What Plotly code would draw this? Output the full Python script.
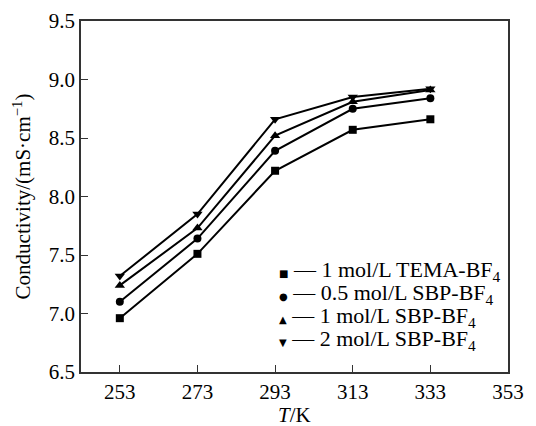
import plotly.graph_objects as go

temps = [253, 273, 293, 313, 333]
tema_1 = [6.96, 7.51, 8.22, 8.57, 8.66]
sbp_05 = [7.10, 7.64, 8.39, 8.75, 8.84]
sbp_1 = [7.24, 7.73, 8.52, 8.81, 8.91]
sbp_2 = [7.32, 7.85, 8.66, 8.85, 8.92]

labels = ["1 mol/L TEMA-BF<sub>4</sub>", "0.5 mol/L SBP-BF<sub>4</sub>",
          "1 mol/L SBP-BF<sub>4</sub>", "2 mol/L SBP-BF<sub>4</sub>"]
glyphs = ["■", "●", "▲", "▼"]
series = [tema_1, sbp_05, sbp_1, sbp_2]
symbols = ["square", "circle", "triangle-up", "triangle-down"]
sizes = [8, 8, 9, 9]

font = "Liberation Serif, Times New Roman, serif"

fig = go.Figure()
for s, sym, sz, lab in zip(series, symbols, sizes, labels):
    fig.add_trace(go.Scatter(x=temps, y=s, mode="lines+markers", name=lab,
                             line=dict(color="black", width=2),
                             marker=dict(symbol=sym, size=sz, color="black"),
                             showlegend=False))

# legend drawn as text rows
y0, dy = 0.289, 0.066
for i, (g, lab) in enumerate(zip(glyphs, labels)):
    fig.add_annotation(xref="paper", yref="paper", x=0.458, y=y0 - i * dy,
                       xanchor="left", yanchor="middle", showarrow=False,
                       text=f"<span style='font-family:DejaVu Sans;font-size:10px'>{g}</span>"
                            f"<span style='font-size:22px'> — {lab}</span>",
                       font=dict(family=font, size=22, color="black"))

# x-axis title
fig.add_annotation(xref="paper", yref="paper", x=0.5, y=-0.1225,
                   xanchor="center", yanchor="middle", showarrow=False,
                   text="<i>T</i>/K", font=dict(family=font, size=21, color="black"))

fig.update_layout(
    width=536, height=426,
    margin=dict(l=81, r=28, t=21, b=54),
    paper_bgcolor="white", plot_bgcolor="white",
    font=dict(family=font, size=21, color="black"),
    showlegend=False,
    xaxis=dict(range=[243, 353], tickvals=[253, 273, 293, 313, 333, 353],
               ticks="inside", ticklen=7, tickwidth=1.2, tickcolor="#333",
               showline=True, linecolor="#333", linewidth=1.5, mirror=True,
               showgrid=False, zeroline=False, automargin=False,
               tickfont=dict(size=21)),
    yaxis=dict(range=[6.5, 9.5], tickvals=[6.5, 7.0, 7.5, 8.0, 8.5, 9.0, 9.5],
               ticktext=["6.5", "7.0", "7.5", "8.0", "8.5", "9.0", "9.5"],
               ticks="inside", ticklen=7, tickwidth=1.2, tickcolor="#333",
               showline=True, linecolor="#333", linewidth=1.5, mirror=True,
               showgrid=False, zeroline=False, automargin=False,
               tickfont=dict(size=21),
               title=dict(text="Conductivity/(mS·cm<sup>−1</sup>)", standoff=12,
                          font=dict(size=21))),
)
fig.write_html("out.html")
